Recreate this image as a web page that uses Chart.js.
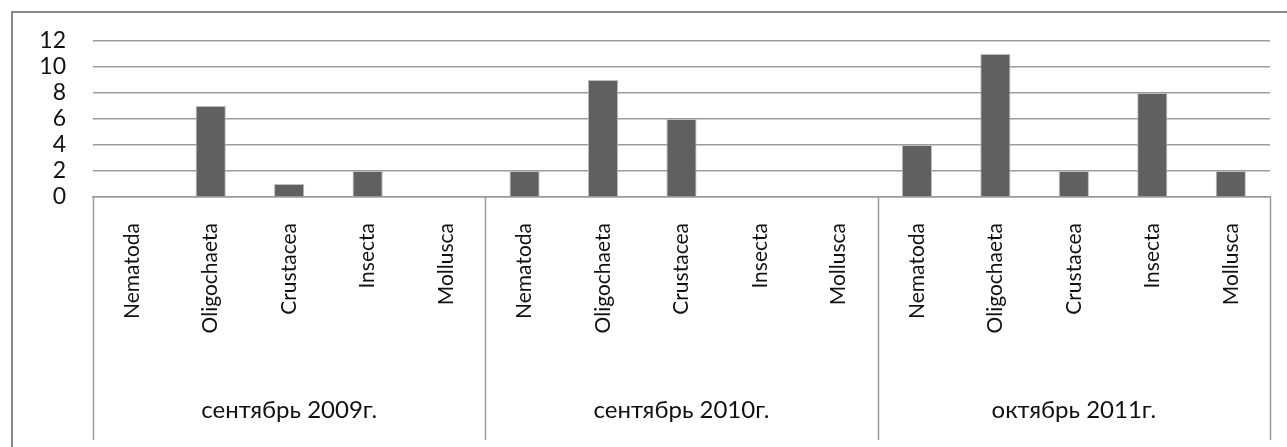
<!DOCTYPE html>
<html>
<head>
<meta charset="utf-8">
<script src="https://cdn.jsdelivr.net/npm/chart.js@4"></script>
<style>
  html, body { margin: 0; padding: 0; background: #fff; overflow: hidden; }
  #frame { position: absolute; left: 11px; top: 11px; width: 1400px; height: 600px; border: 2px solid #8a8a8a; box-sizing: border-box; }
  #wrap { position: absolute; left: 0; top: 0; width: 1287px; height: 447px; }
</style>
</head>
<body>
<div id="frame"></div>
<div id="wrap"><canvas id="chart" width="1287" height="447"></canvas></div>
<script>
// taxa per sampling date
const taxa = ['Nematoda', 'Oligochaeta', 'Crustacea', 'Insecta', 'Mollusca'];
const groups = ['сентябрь 2009г.', 'сентябрь 2010г.', 'октябрь 2011г.'];
const values2009 = [0, 7, 1, 2, 0];
const values2010 = [2, 9, 6, 0, 0];
const values2011 = [4, 11, 2, 8, 2];
const yTicks = [0, 2, 4, 6, 8, 10, 12];

const labels = [];
const groupLabels = [];
groups.forEach(g => {
  taxa.forEach((t, i) => {
    labels.push(t);
    groupLabels.push(i === 2 ? g : '');
  });
});
const values = [...values2009, ...values2010, ...values2011];

Chart.defaults.font.family = "Lato, 'Open Sans', sans-serif";
Chart.defaults.font.size = 20;
Chart.defaults.color = '#111';

// separators between groups, below the plot
const groupLines = {
  id: 'groupLines',
  afterDraw(chart) {
    const x = chart.scales.x;
    const ctx = chart.ctx;
    const top = chart.chartArea.bottom;
    ctx.save();
    ctx.strokeStyle = '#9a9a9a';
    ctx.lineWidth = 1.5;
    for (let k = 0; k <= groups.length; k++) {
      const px = Math.round(x.getPixelForValue(k * taxa.length - 0.5)) + 0.5;
      ctx.beginPath();
      ctx.moveTo(px, top);
      ctx.lineTo(px, 440);
      ctx.stroke();
    }
    ctx.restore();
  }
};

new Chart(document.getElementById('chart'), {
  type: 'bar',
  data: {
    labels: labels,
    datasets: [{
      data: values,
      backgroundColor: '#606060',
      borderColor: '#bdbdbd',
      borderWidth: 1,
      barPercentage: 0.5,
      categoryPercentage: 0.77
    }]
  },
  options: {
    responsive: false,
    animation: false,
    layout: { padding: { left: 0, right: 17, top: 41, bottom: 0 } },
    plugins: { legend: { display: false }, tooltip: { enabled: false } },
    scales: {
      y: {
        min: 0, max: 12,
        afterBuildTicks: s => { s.ticks = yTicks.map(v => ({ value: v })); },
        afterFit: s => { s.width = 93; },
        border: { display: false },
        grid: { color: '#9c9c9c', lineWidth: 1.5, drawTicks: false },
        ticks: { autoSkip: false, padding: 27, font: { size: 23 } }
      },
      x: {
        afterFit: s => { s.height = 160; },
        border: { display: true, color: '#9a9a9a', width: 1.5 },
        grid: { display: false },
        ticks: { minRotation: 90, maxRotation: 90, autoSkip: false, padding: 18, font: { size: 21 } }
      },
      groups: {
        type: 'category',
        position: 'bottom',
        labels: groupLabels,
        afterFit: s => { s.height = 90; },
        border: { display: false },
        grid: { display: false },
        ticks: { autoSkip: false, maxRotation: 0, padding: 31, font: { size: 24 } }
      }
    }
  },
  plugins: [groupLines]
});
</script>
</body>
</html>
